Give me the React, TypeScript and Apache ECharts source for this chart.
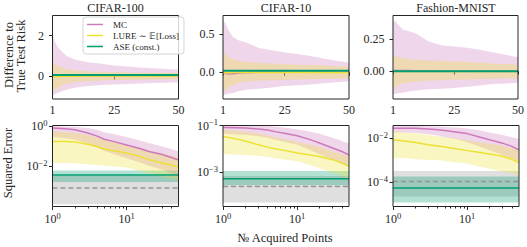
import React, { useEffect, useRef } from 'react';
import * as echarts from 'echarts';

const FONT = '"Liberation Serif", "Times New Roman", serif';
const INK = '#262626';
const COL = { mc: '#cc78bc', lu: '#ece133', ase: '#029e73', ref: '#949494' };

const TITLES = ['CIFAR-100', 'CIFAR-10', 'Fashion-MNIST'];
const LEGEND = ['MC', 'LURE \u223C \uD835\uDD3C[Loss]', 'ASE (const.)'];

// ---------- top row: difference to true test risk ----------
const T = [1, 2, 3, 4, 5, 7, 10, 15, 20, 25, 30, 35, 40, 45, 50];
const topXTicks = [1, 25, 50];

const mcHi1 = [2.1, 1.7, 1.45, 1.3, 1.15, 0.95, 0.8, 0.68, 0.6, 0.52, 0.47, 0.42, 0.38, 0.34, 0.3];
const mcLo1 = [-1.0, -0.92, -0.85, -0.8, -0.75, -0.66, -0.58, -0.5, -0.46, -0.43, -0.4, -0.38, -0.36, -0.34, -0.32];
const luHi1 = [0.72, 0.58, 0.5, 0.44, 0.4, 0.33, 0.27, 0.22, 0.2, 0.18, 0.17, 0.16, 0.16, 0.15, 0.15];
const luLo1 = [-0.86, -0.7, -0.6, -0.52, -0.46, -0.38, -0.31, -0.26, -0.23, -0.21, -0.2, -0.19, -0.18, -0.17, -0.16];
const mcMean1 = [0.05, 0.03, 0.02, 0.02, 0.01, 0.01, 0.01, 0.01, 0, 0, 0, 0, 0, 0, 0];
const luMean1 = [-0.05, -0.04, -0.03, -0.03, -0.02, -0.02, -0.02, -0.01, -0.01, -0.01, -0.01, -0.01, -0.01, -0.01, -0.01];
const ase1 = 0.04;

const mcHi2 = [0.68, 0.64, 0.56, 0.51, 0.46, 0.42, 0.39, 0.32, 0.29, 0.26, 0.24, 0.215, 0.18, 0.15, 0.13];
const mcLo2 = [-0.3, -0.29, -0.28, -0.275, -0.27, -0.25, -0.23, -0.215, -0.2, -0.18, -0.17, -0.16, -0.145, -0.13, -0.12];
const luHi2 = [0.29, 0.24, 0.2, 0.18, 0.17, 0.155, 0.14, 0.125, 0.115, 0.11, 0.1, 0.095, 0.09, 0.08, 0.075];
const luLo2 = [-0.29, -0.24, -0.2, -0.18, -0.17, -0.145, -0.12, -0.11, -0.105, -0.1, -0.095, -0.09, -0.085, -0.082, -0.08];
const mcMean2 = [0, -0.015, -0.02, -0.02, -0.02, -0.01, -0.005, 0, 0, 0, 0, 0, 0, 0, 0];
const luMean2 = [-0.005, -0.005, -0.005, -0.005, -0.004, -0.004, -0.003, -0.003, -0.002, -0.002, -0.002, -0.002, -0.002, -0.002, -0.002];
const ase2 = 0.02;

const mcHi3 = [0.39, 0.385, 0.36, 0.34, 0.32, 0.31, 0.29, 0.23, 0.2, 0.19, 0.18, 0.165, 0.147, 0.126, 0.108];
const mcLo3 = [-0.18, -0.175, -0.17, -0.168, -0.165, -0.158, -0.15, -0.14, -0.135, -0.13, -0.12, -0.11, -0.1, -0.095, -0.09];
const luHi3 = [0.12, 0.115, 0.11, 0.105, 0.1, 0.094, 0.088, 0.082, 0.078, 0.075, 0.07, 0.065, 0.06, 0.055, 0.05];
const luLo3 = [-0.145, -0.125, -0.11, -0.1, -0.093, -0.087, -0.08, -0.074, -0.07, -0.067, -0.064, -0.061, -0.058, -0.056, -0.055];
const mcMean3 = [0.005, 0.006, 0.006, 0.006, 0.005, 0.005, 0.004, 0.003, 0.002, 0.001, 0, 0, 0, 0, 0];
const luMean3 = [-0.002, -0.002, -0.002, -0.002, -0.002, -0.002, -0.002, -0.002, -0.002, -0.002, -0.002, -0.002, -0.002, -0.002, -0.002];
const ase3 = 0.0;

const topYRange = [[-1.15, 3], [-0.35, 0.745], [-0.215, 0.43]];
const topYTicks = [[0, 2], [0, 0.5], [0, 0.25]];
const topYDigits = [0, 1, 2];

// ---------- bottom row: squared error ----------
const B = [1, 1.5, 2, 3, 4, 5, 7, 10, 15, 20, 30, 40, 50];
const botXMajor = [1, 10];
const botXMinor = [2, 3, 4, 5, 6, 7, 8, 9, 20, 30, 40];

const mc4 = [0.85, 0.78, 0.68, 0.47, 0.33, 0.23, 0.17, 0.12, 0.08, 0.056, 0.04, 0.028, 0.021];
const mcHi4 = [1.05, 1.0, 0.95, 0.85, 0.68, 0.52, 0.4, 0.3, 0.2, 0.15, 0.1, 0.075, 0.056];
const mcLo4 = [0.3, 0.26, 0.22, 0.14, 0.09, 0.06, 0.04, 0.026, 0.016, 0.011, 0.007, 0.0045, 0.0032];
const lu4 = [0.18, 0.18, 0.17, 0.13, 0.1, 0.075, 0.06, 0.047, 0.032, 0.022, 0.015, 0.012, 0.0093];
const luHi4 = [0.56, 0.52, 0.47, 0.37, 0.28, 0.22, 0.16, 0.12, 0.085, 0.062, 0.045, 0.035, 0.028];
const luLo4 = [0.015, 0.015, 0.014, 0.013, 0.012, 0.011, 0.01, 0.009, 0.006, 0.0045, 0.0032, 0.0026, 0.002];
const ase4 = [0.0038, 0.0017, 0.0063]; // value, low, high
const ref4 = [0.00083, 0.00013, 0.0034];

const mc5 = [0.082, 0.08, 0.078, 0.072, 0.064, 0.055, 0.046, 0.037, 0.025, 0.018, 0.011, 0.0078, 0.0056];
const mcHi5 = [0.1, 0.1, 0.1, 0.1, 0.095, 0.09, 0.08, 0.07, 0.055, 0.045, 0.03, 0.022, 0.017];
const mcLo5 = [0.045, 0.042, 0.04, 0.035, 0.03, 0.025, 0.02, 0.015, 0.009, 0.006, 0.0035, 0.0025, 0.0018];
const lu5 = [0.034, 0.027, 0.022, 0.015, 0.012, 0.0102, 0.0085, 0.0067, 0.0055, 0.0048, 0.0035, 0.0025, 0.0018];
const luHi5 = [0.066, 0.06, 0.055, 0.045, 0.037, 0.032, 0.026, 0.02, 0.015, 0.012, 0.008, 0.006, 0.005];
const luLo5 = [0.006, 0.0058, 0.0055, 0.005, 0.0045, 0.004, 0.0035, 0.003, 0.002, 0.0015, 0.001, 0.0007, 0.0005];
const ase5 = [0.00053, 0.00028, 0.00115];
const ref5 = [0.00025, 0.000052, 0.0007];

const mc6 = [0.028, 0.028, 0.028, 0.026, 0.024, 0.022, 0.019, 0.016, 0.011, 0.0084, 0.0059, 0.0042, 0.0029];
const mcHi6 = [0.037, 0.037, 0.036, 0.035, 0.034, 0.032, 0.03, 0.027, 0.022, 0.018, 0.014, 0.011, 0.009];
const mcLo6 = [0.018, 0.018, 0.017, 0.015, 0.013, 0.011, 0.009, 0.0065, 0.004, 0.0028, 0.0017, 0.0012, 0.0009];
const lu6 = [0.0084, 0.0072, 0.0063, 0.005, 0.0044, 0.0039, 0.0033, 0.0027, 0.0022, 0.0019, 0.0015, 0.0011, 0.00078];
const luHi6 = [0.02, 0.018, 0.016, 0.014, 0.012, 0.011, 0.0095, 0.008, 0.0065, 0.0055, 0.0045, 0.0035, 0.003];
const luLo6 = [0.0012, 0.0012, 0.0011, 0.001, 0.001, 0.0009, 0.0008, 0.0007, 0.0005, 0.0004, 0.0003, 0.00025, 0.0002];
const ase6 = [0.000054, 0.000012, 0.00018];
const ref6 = [0.000107, 0.000022, 0.00032];

const botYRange = [[1e-4, 1.12], [3.5e-5, 0.1005], [7.8e-6, 0.0374]];
const botYTicks = [[1e-2, 1], [1e-3, 1e-1], [1e-4, 1e-2]];

// ---------- helpers ----------
function rgba(hex: string, a: number) {
  const n = parseInt(hex.slice(1), 16);
  return `rgba(${(n >> 16) & 255},${(n >> 8) & 255},${n & 255},${a})`;
}

function band(xi: number, yi: number, xs: number[], lo: number[], hi: number[], color: string, a: number, z: number) {
  return {
    type: 'custom',
    xAxisIndex: xi,
    yAxisIndex: yi,
    z,
    clip: true,
    silent: true,
    encode: { x: 0, y: [1, 2] },
    data: xs.map((x, i) => [x, lo[i], hi[i]]),
    renderItem: (params: any, api: any) => {
      if (params.dataIndex !== 0) return null;
      const pts: number[][] = [];
      for (let i = 0; i < xs.length; i++) pts.push(api.coord([xs[i], hi[i]]));
      for (let i = xs.length - 1; i >= 0; i--) pts.push(api.coord([xs[i], lo[i]]));
      return { type: 'polygon', shape: { points: pts }, style: { fill: rgba(color, a) } };
    },
  };
}

function line(name: string, xi: number, yi: number, xs: number[], ys: number[], color: string, width: number, z: number, dashed = false) {
  return {
    type: 'line',
    name,
    xAxisIndex: xi,
    yAxisIndex: yi,
    z,
    color,
    data: xs.map((x, i) => [x, ys[i]]),
    showSymbol: false,
    symbol: 'none',
    silent: true,
    lineStyle: { color, width, type: dashed ? [5, 3] : 'solid', cap: 'butt' },
  };
}

function constLine(name: string, xi: number, yi: number, v: number, color: string, width: number, z: number, dashed = false) {
  return line(name, xi, yi, [1, 50], [v, v], color, width, z, dashed);
}

function supFmt(v: number) {
  const e = Math.round(Math.log10(v));
  return `{b|10}{s|${e < 0 ? '\u2212' + -e : e}}`;
}

const RICH = {
  b: { fontFamily: FONT, fontSize: 12, color: INK },
  s: { fontFamily: FONT, fontSize: 8.5, color: INK, padding: [0, 0, 7, 0] },
};

const LEFTS = [52.5, 223, 393];
const W = 126;

function buildOption() {
  const grid: any[] = [];
  const xAxis: any[] = [];
  const yAxis: any[] = [];
  const series: any[] = [];

  for (let i = 0; i < 3; i++) {
    grid.push({ left: LEFTS[i], top: 15.5, width: W, height: 83.5, show: true, borderColor: INK, borderWidth: 1, backgroundColor: 'transparent', z: 10 });
  }
  for (let i = 0; i < 3; i++) {
    grid.push({ left: LEFTS[i], top: 125.5, width: W, height: 81, show: true, borderColor: INK, borderWidth: 1, backgroundColor: 'transparent', z: 10 });
  }

  const tick = (vals: number[], len: number) => ({ show: true, customValues: vals, length: len, lineStyle: { color: INK, width: 1 } });

  for (let i = 0; i < 3; i++) {
    xAxis.push({
      type: 'value', gridIndex: i, min: 1, max: 50,
      axisLine: { show: false }, splitLine: { show: false },
      axisTick: tick(topXTicks, 3.5),
      axisLabel: { customValues: topXTicks, fontFamily: FONT, fontSize: 12, color: INK, margin: 4.5 },
    });
  }
  for (let i = 0; i < 3; i++) {
    xAxis.push({
      type: 'log', logBase: 10, gridIndex: 3 + i, min: 1, max: 50, position: 'bottom',
      axisLine: { show: false }, splitLine: { show: false }, minorTick: { show: false },
      axisTick: tick(botXMajor, 3.5),
      axisLabel: { customValues: botXMajor, formatter: supFmt, rich: RICH, margin: 4.5 },
    });
  }
  for (let i = 0; i < 3; i++) {
    xAxis.push({
      type: 'log', logBase: 10, gridIndex: 3 + i, min: 1, max: 50, position: 'bottom',
      axisLine: { show: false }, splitLine: { show: false },
      axisTick: tick(botXMinor, 2),
      axisLabel: { show: false },
    });
  }
  for (let i = 0; i < 3; i++) {
    const d = topYDigits[i];
    yAxis.push({
      type: 'value', gridIndex: i, min: topYRange[i][0], max: topYRange[i][1],
      axisLine: { show: false }, splitLine: { show: false },
      axisTick: tick(topYTicks[i], 3.5),
      axisLabel: { customValues: topYTicks[i], formatter: (v: number) => v.toFixed(d), fontFamily: FONT, fontSize: 12, color: INK, margin: 8.5 },
    });
  }
  for (let i = 0; i < 3; i++) {
    yAxis.push({
      type: 'log', logBase: 10, gridIndex: 3 + i, min: botYRange[i][0], max: botYRange[i][1],
      axisLine: { show: false }, splitLine: { show: false },
      axisTick: tick(botYTicks[i], 3.5),
      axisLabel: { customValues: botYTicks[i], formatter: supFmt, rich: RICH, margin: 5 },
    });
  }

  const tops = [
    [mcHi1, mcLo1, luHi1, luLo1, mcMean1, luMean1, ase1],
    [mcHi2, mcLo2, luHi2, luLo2, mcMean2, luMean2, ase2],
    [mcHi3, mcLo3, luHi3, luLo3, mcMean3, luMean3, ase3],
  ] as any[];
  tops.forEach((p, i) => {
    const [mh, ml, lh, ll, mm, lm, a] = p;
    series.push(band(i, i, T, ml, mh, COL.mc, 0.3, 1));
    series.push(band(i, i, T, ll, lh, COL.lu, 0.3, 1));
    series.push(line(LEGEND[0], i, i, T, mm, COL.mc, 1.5, 3));
    series.push(line(LEGEND[1], i, i, T, lm, COL.lu, 1.5, 3));
    series.push(constLine(LEGEND[2], i, i, a, COL.ase, 2, 4));
  });

  const bots = [
    [mc4, mcHi4, mcLo4, lu4, luHi4, luLo4, ase4, ref4],
    [mc5, mcHi5, mcLo5, lu5, luHi5, luLo5, ase5, ref5],
    [mc6, mcHi6, mcLo6, lu6, luHi6, luLo6, ase6, ref6],
  ] as any[];
  bots.forEach((p, k) => {
    const i = 3 + k;
    const [m, mh, ml, l, lh, ll, a, r] = p;
    series.push(band(i, i, [1, 50], [r[1], r[1]], [r[2], r[2]], COL.ref, 0.3, 1));
    series.push(band(i, i, [1, 50], [a[1], a[1]], [a[2], a[2]], COL.ase, 0.3, 1));
    series.push(band(i, i, B, ml, mh, COL.mc, 0.3, 1));
    series.push(band(i, i, B, ll, lh, COL.lu, 0.3, 1));
    series.push(line(LEGEND[0], i, i, B, m, COL.mc, 1.5, 3));
    series.push(line(LEGEND[1], i, i, B, l, COL.lu, 1.5, 3));
    series.push(constLine(LEGEND[2], i, i, a[0], COL.ase, 1.5, 4));
    series.push(constLine('ref', i, i, r[0], COL.ref, 1.5, 4, true));
  });

  const txt = (text: string, x: number, y: number, rot = 0, size = 12) => ({
    type: 'text', x, y, rotation: rot, silent: true,
    style: { text, fill: INK, fontSize: size, fontFamily: FONT, align: 'center', verticalAlign: 'middle' },
  });

  const graphic = [
    txt(TITLES[0], LEFTS[0] + W / 2, 8),
    txt(TITLES[1], LEFTS[1] + W / 2, 8),
    txt(TITLES[2], LEFTS[2] + W / 2, 8),
    txt('Difference to', 9, 55, Math.PI / 2, 12.5),
    txt('True Test Risk', 21, 56, Math.PI / 2, 12.5),
    txt('Squared Error', 8, 163, Math.PI / 2, 12.5),
    txt('\u2116 Acquired Points', LEFTS[1] + W / 2 - 1, 238, 0, 12.5),
  ];

  return {
    animation: false,
    backgroundColor: '#fff',
    grid, xAxis, yAxis, series, graphic,
    legend: {
      data: LEGEND,
      orient: 'vertical',
      left: 83, top: 17,
      icon: 'rect', itemWidth: 16, itemHeight: 1.5, itemGap: 2,
      padding: [3, 5, 3, 4],
      borderColor: '#d4d4d4', borderWidth: 1, borderRadius: 3,
      backgroundColor: 'rgba(255,255,255,0.8)',
      selectedMode: false,
      textStyle: { fontFamily: FONT, fontSize: 9, color: INK, padding: [0, 0, 0, 5] },
      z: 20,
    },
  };
}

export default function App() {
  const ref = useRef<HTMLDivElement>(null);
  useEffect(() => {
    const chart = echarts.init(ref.current!, null, { renderer: 'svg' });
    chart.setOption(buildOption() as any);
    return () => chart.dispose();
  }, []);
  return <div ref={ref} style={{ position: 'absolute', left: 0, top: 0, width: 527, height: 247 }} />;
}
